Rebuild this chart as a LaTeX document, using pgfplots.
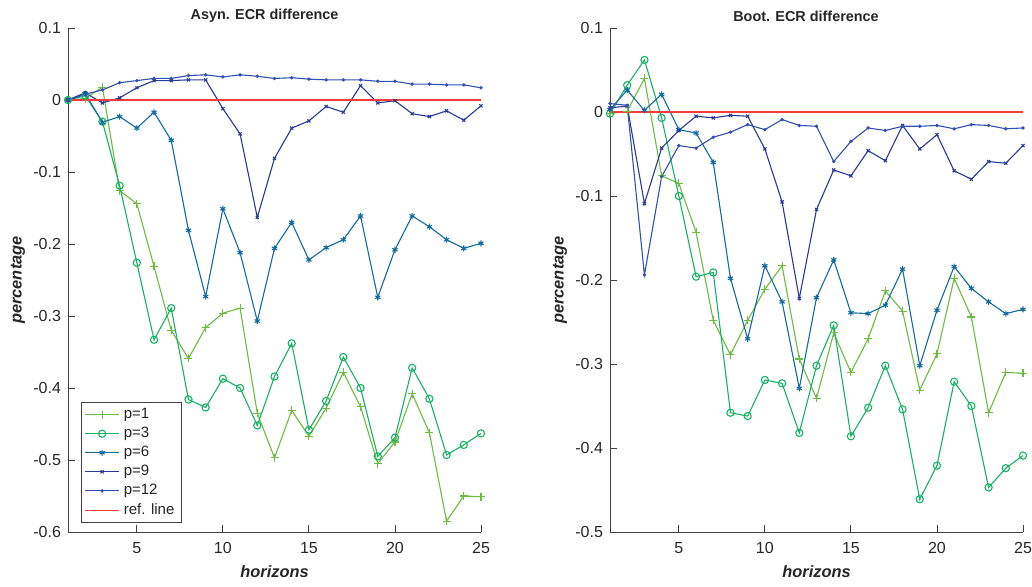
\documentclass[border=0pt]{standalone}
\usepackage{fontspec}
\setmainfont{Liberation Sans}
\usepackage{pgfplots}
\usepackage{pgfplotstable}
\pgfplotsset{compat=1.18}

\definecolor{cp1}{RGB}{108,188,66}
\definecolor{cp3}{RGB}{22,178,100}
\definecolor{cp6}{RGB}{20,106,160}
\definecolor{cp9}{RGB}{40,58,150}
\definecolor{cp12}{RGB}{50,80,175}
\definecolor{refred}{RGB}{245,60,60}
\definecolor{axgray}{RGB}{64,64,64}
\definecolor{txtgray}{RGB}{38,38,38}

% Asyn. ECR difference
\pgfplotstableread{
h p1 p3 p6 p9 p12
1 0 0 0 0 0
2 0.002 0.006 0.009 0.010 0.008
3 0.018 -0.030 -0.031 -0.004 0.014
4 -0.126 -0.119 -0.023 0.003 0.024
5 -0.144 -0.226 -0.039 0.017 0.027
6 -0.231 -0.333 -0.017 0.027 0.030
7 -0.320 -0.289 -0.056 0.027 0.030
8 -0.359 -0.416 -0.181 0.028 0.034
9 -0.316 -0.427 -0.273 0.028 0.035
10 -0.296 -0.387 -0.151 -0.012 0.032
11 -0.289 -0.400 -0.212 -0.047 0.035
12 -0.435 -0.452 -0.307 -0.163 0.033
13 -0.497 -0.384 -0.206 -0.081 0.030
14 -0.431 -0.338 -0.170 -0.039 0.031
15 -0.467 -0.458 -0.222 -0.029 0.029
16 -0.428 -0.418 -0.205 -0.009 0.028
17 -0.378 -0.357 -0.194 -0.017 0.028
18 -0.426 -0.400 -0.161 0.020 0.028
19 -0.505 -0.495 -0.274 -0.004 0.026
20 -0.475 -0.469 -0.208 -0.001 0.026
21 -0.408 -0.372 -0.161 -0.019 0.022
22 -0.462 -0.415 -0.176 -0.023 0.022
23 -0.585 -0.493 -0.194 -0.015 0.021
24 -0.550 -0.479 -0.206 -0.028 0.021
25 -0.551 -0.463 -0.199 -0.008 0.017
}\asyn

% Boot. ECR difference
\pgfplotstableread{
h p1 p3 p6 p9 p12
1 -0.002 -0.002 0.003 0.005 0.010
2 0.001 0.032 0.026 0.007 0.008
3 0.040 0.062 0.002 -0.109 -0.194
4 -0.076 -0.007 0.021 -0.043 -0.077
5 -0.085 -0.100 -0.021 -0.022 -0.040
6 -0.143 -0.196 -0.025 -0.005 -0.043
7 -0.248 -0.191 -0.060 -0.007 -0.030
8 -0.289 -0.358 -0.198 -0.004 -0.024
9 -0.248 -0.362 -0.270 -0.005 -0.015
10 -0.211 -0.319 -0.183 -0.044 -0.021
11 -0.183 -0.323 -0.226 -0.107 -0.009
12 -0.294 -0.382 -0.329 -0.222 -0.016
13 -0.341 -0.302 -0.221 -0.116 -0.017
14 -0.263 -0.254 -0.176 -0.069 -0.059
15 -0.310 -0.386 -0.239 -0.076 -0.035
16 -0.270 -0.352 -0.240 -0.046 -0.019
17 -0.213 -0.302 -0.230 -0.058 -0.022
18 -0.237 -0.354 -0.187 -0.016 -0.017
19 -0.331 -0.461 -0.302 -0.044 -0.017
20 -0.288 -0.421 -0.236 -0.027 -0.016
21 -0.198 -0.321 -0.184 -0.070 -0.020
22 -0.244 -0.350 -0.210 -0.080 -0.015
23 -0.358 -0.447 -0.226 -0.059 -0.016
24 -0.310 -0.424 -0.240 -0.061 -0.020
25 -0.311 -0.409 -0.235 -0.040 -0.019
}\boot

\pgfplotsset{
  ecr/.style={
    scale only axis,
    width=206.5pt, height=252pt,
    xmin=1, xmax=25, xtick={5,10,15,20,25},
    axis x line=bottom, axis y line=left,
    axis line style={-, draw=axgray, line width=0.45pt},
    tick align=inside, major tick length=3.5pt,
    tick style={draw=axgray, line width=0.45pt},
    tick label style={font=\fontsize{8}{9}\selectfont, text=txtgray},
    xticklabel style={yshift=-1.5pt},
    /pgf/number format/assume math mode=true,
    /pgf/number format/fixed, /pgf/number format/precision=1,
    xlabel={\bfseries\itshape horizons},
    ylabel={\bfseries\itshape percentage},
    label style={font=\fontsize{8.2}{9}\selectfont, text=txtgray},
    xlabel style={at={(axis description cs:0.5,-0.0794)}, anchor=center},
    ylabel style={at={(axis description cs:-0.121,0.5)}, anchor=center},
    every axis title shift=0pt,
    title style={anchor=center, yshift=0pt, font=\bfseries\fontsize{7.2}{8}\selectfont, text=txtgray},
    clip=false,
  },
  s1/.style={color=cp1, line width=0.55pt, mark=+, mark size=2pt, mark options={solid}},
  s3/.style={color=cp3, line width=0.55pt, mark=o, mark size=1.8pt, mark options={solid}},
  s6/.style={color=cp6, line width=0.55pt, mark=asterisk, mark size=1.5pt, mark options={solid}},
  s9/.style={color=cp9, line width=0.55pt, mark=x, mark size=1.1pt, mark options={solid}},
  s12/.style={color=cp12, line width=0.55pt, mark=*, mark size=0.55pt, mark options={solid}},
  sref/.style={color=refred, draw=refred, line width=0.6pt, mark=none},
}

\begin{document}
\begin{tikzpicture}
\path[use as bounding box] (-34pt,-27pt) rectangle (482pt,266pt);

\begin{axis}[ecr,
    at={(0,0)}, anchor=south west,
    ymin=-0.6, ymax=0.1,
    ytick={-0.6,-0.5,-0.4,-0.3,-0.2,-0.1,0,0.1},
    title={Asyn. ECR difference},
    title style={at={(axis description cs:0.476,1.024)}},
    legend style={at={(0.0315,0.258)}, anchor=north west,
        draw=axgray, fill=white, line width=0.45pt,
        font=\fontsize{7.5}{8}\selectfont, text=txtgray,
        inner xsep=1.5pt, inner ysep=0.8pt, row sep=-1.2pt,
        cells={anchor=west}},
]
\addplot[s1] table[x=h, y=p1] {\asyn};
\addlegendentry{p=1}
\addplot[s3] table[x=h, y=p3] {\asyn};
\addlegendentry{p=3}
\addplot[s6] table[x=h, y=p6] {\asyn};
\addlegendentry{p=6}
\addplot[s9] table[x=h, y=p9] {\asyn};
\addlegendentry{p=9}
\addplot[s12] table[x=h, y=p12] {\asyn};
\addlegendentry{p=12}
\addplot[sref] coordinates {(1,0) (25,0)};
\addlegendentry{ref. line}
\end{axis}

\begin{axis}[ecr,
    at={(271pt,0)}, anchor=south west,
    ymin=-0.5, ymax=0.1,
    ytick={-0.5,-0.4,-0.3,-0.2,-0.1,0,0.1},
    title={Boot. ECR difference},
    title style={at={(axis description cs:0.4746,1.024)}},
]
\addplot[s1] table[x=h, y=p1] {\boot};
\addplot[s3] table[x=h, y=p3] {\boot};
\addplot[s6] table[x=h, y=p6] {\boot};
\addplot[s9] table[x=h, y=p9] {\boot};
\addplot[s12] table[x=h, y=p12] {\boot};
\addplot[sref] coordinates {(1,0) (25,0)};
\end{axis}
\end{tikzpicture}
\end{document}
